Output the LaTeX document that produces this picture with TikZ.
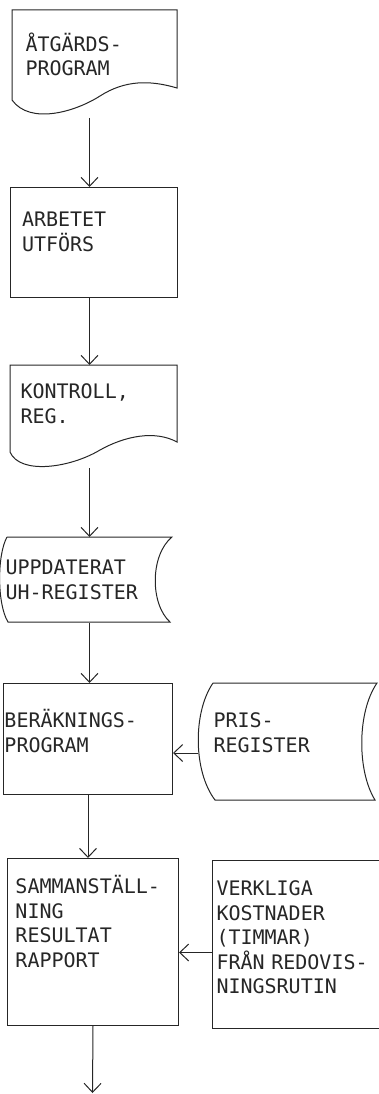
\documentclass[tikz,border=0pt]{standalone}
\usepackage{fontspec}
\newfontfamily\flowfont{DejaVu Sans Mono}
\usetikzlibrary{arrows.meta}
\definecolor{ink}{HTML}{262626}

\begin{document}
\begin{tikzpicture}[x=1pt, y=-1pt, line width=1pt, color=ink,
    blk/.style={anchor=north west, inner ysep=0pt, align=left,
      font=\flowfont\fontsize{20}{24.5}\selectfont},
    flow/.style={-{Straight Barb[length=9pt,width=17pt]}}]
  \useasboundingbox (0,0) rectangle (379,1094);
  \clip (0,0) rectangle (379,1094);
  \node (atgard)   [blk, inner xsep=13pt, text width=128pt, text height=41pt, text depth=66pt] at (12,10) {ÅTGÄRDS-\\PROGRAM};
  \node (arbetet)  [blk, draw, inner xsep=11.5pt, text width=144pt, text height=39pt, text depth=71pt] at (10,187) {ARBETET\\UTFÖRS};
  \node (kontroll) [blk, inner xsep=10pt, text width=138pt, text height=33pt, text depth=69pt] at (10,365) {KONTROLL,\\REG.};
  \node (uppdat)   [blk, inner xsep=5pt, text width=168pt, text height=37pt, text depth=48pt] at (0,537) {UPPDATERAT\\UH-REGISTER};
  \node (berakn)   [blk, draw, inner xsep=1pt, text width=167pt, text height=44pt, text depth=67pt] at (3,683) {BERÄKNINGS-\\PROGRAM};
  \node (pris)     [blk, inner xsep=15pt, text width=150pt, text height=44pt, text depth=73pt] at (198,683) {PRIS-\\REGISTER};
  \node (samman)   [blk, draw, inner xsep=8pt, text width=155pt, text height=35pt, text depth=132pt] at (7,858) {SAMMANSTÄLL-\\NING\\RESULTAT\\RAPPORT};
  \node (verkliga) [blk, draw, inner xsep=4pt, text width=200pt, text height=35pt, text depth=133pt] at (212,860) {VERKLIGA\\KOSTNADER\\(TIMMAR)\\FRÅN REDOVIS-\\NINGSRUTIN};
  \coordinate (ende) at (92.5,1093);
  % document shapes
  \draw (12,10) -- (177,10) -- (177,88) .. controls (150,80) and (125,80) .. (100,96)
        .. controls (75,112) and (30,125) .. (12,100) -- cycle;
  \draw (10,365) -- (177,365) -- (177,442) .. controls (155,430) and (125,436) .. (100,450)
        .. controls (70,468) and (20,475) .. (10,452) -- cycle;
  % stored data
  \draw (7,537) -- (172,537) .. controls (150,555) and (150,604) .. (170,622)
        -- (8,622) .. controls (-3,604) and (-3,555) .. (7,537);
  \draw (213,683) -- (377,683) .. controls (357,712) and (357,771) .. (375,800)
        -- (215,800) .. controls (193,771) and (193,712) .. (213,683);
  % flow
  \draw[flow] (atgard.south) -- (atgard.south |- arbetet.north);
  \draw[flow] (kontroll.north |- arbetet.south) -- (kontroll.north);
  \draw[flow] (kontroll.south) -- (uppdat.north);
  \draw[flow] (uppdat.south) -- (uppdat.south |- berakn.north);
  \draw[flow] (berakn.south) -- (berakn.south |- samman.north);
  \draw[flow] (samman.south) -- (ende);
  \draw[flow] ([yshift=-11pt]pris.west) -- ([yshift=-11pt]pris.west -| berakn.east);
  \draw[flow] ([yshift=-8pt]verkliga.west) -- ([yshift=-8pt]verkliga.west -| samman.east);
\end{tikzpicture}
\end{document}
